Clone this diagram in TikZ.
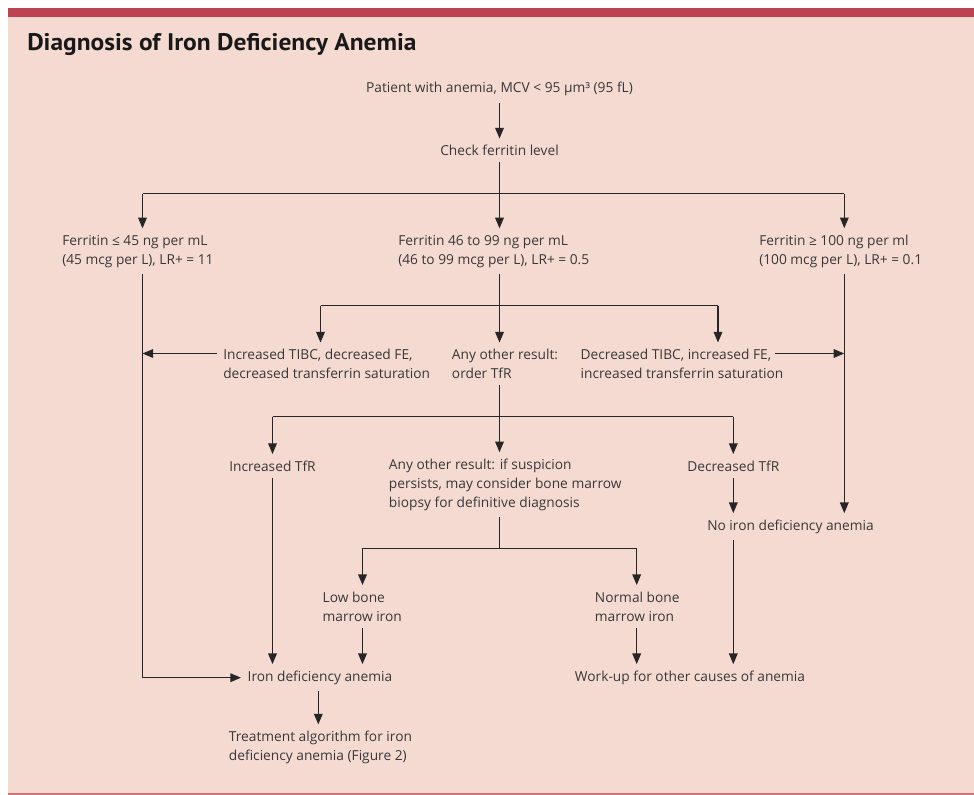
\documentclass[tikz,border=0pt]{standalone}
\usepackage{fontspec}
\setmainfont{Open Sans}
\newfontfamily\titlefont{PT Sans}[FakeStretch=1.06]
\usetikzlibrary{arrows.meta}
\definecolor{bgpink}{HTML}{F5DAD2}
\definecolor{barred}{HTML}{BE4350}
\definecolor{ink}{HTML}{262626}
\definecolor{txtc}{HTML}{383838}
\begin{document}
\begin{tikzpicture}[x=0.75pt,y=-0.75pt,
  txt/.style={font=\fontsize{10.3}{14.25}\selectfont, inner sep=0pt, outer sep=5pt, text=txtc, align=left},
  ln/.style={draw=ink, line width=0.95pt},
  arr/.style={ln, -{Triangle[length=8pt,width=6.5pt]}}]
\useasboundingbox (0,0) rectangle (974,795);
\fill[white] (0,0) rectangle (974,795);
\fill[bgpink] (8,17) rectangle (974,793);
\fill[barred] (8,8) rectangle (974,17.5);
\fill[barred!75] (8,793) rectangle (974,795);

\node[anchor=west, inner sep=0pt, text=black!90, font=\titlefont\bfseries\fontsize{18}{20}\selectfont] (title) at (27,45) {Diagnosis of Iron Deficiency Anemia};

% nodes
\node[txt] (pat) at (499.5,89.3) {Patient with anemia, MCV < 95 µm³ (95 fL)};
\node[txt] (chk) at (499.5,150.5) {Check ferritin level};
\node[txt, anchor=west] (ferL) at (55.6,251.2) {Ferritin ≤ 45 ng per mL\\(45 mcg per L), LR+ = 11};
\node[txt, anchor=west] (ferM) at (391.6,251.2) {Ferritin 46 to 99 ng per mL\\(46 to 99 mcg per L), LR+ = 0.5};
\node[txt, anchor=west] (ferR) at (752.6,251.2) {Ferritin ≥ 100 ng per ml\\(100 mcg per L), LR+ = 0.1};
\node[txt, anchor=west] (tibcI) at (216.6,364) {Increased TIBC, decreased FE,\\decreased transferrin saturation};
\node[txt, anchor=west] (other1) at (445.3,364) {Any other result:\\order TfR};
\node[txt, anchor=west] (tibcD) at (574,364) {Decreased TIBC, increased FE,\\increased transferrin saturation};
\node[txt] (tfrI) at (272.5,466) {Increased TfR};
\node[txt, anchor=west] (other2) at (382.3,484.8) {Any other result: if suspicion\\persists, may consider bone marrow\\biopsy for definitive diagnosis};
\node[txt] (tfrD) at (733.3,466) {Decreased TfR};
\node[txt, anchor=west] (noida) at (700.6,526.7) {No iron deficiency anemia};
\node[txt, anchor=west] (lowbm) at (316,606.5) {Low bone\\marrow iron};
\node[txt, anchor=west] (normbm) at (588.3,606.5) {Normal bone\\marrow iron};
\node[txt, anchor=west] (ida) at (241,677.7) {Iron deficiency anemia};
\node[txt, anchor=west] (wu) at (568.3,677.7) {Work-up for other causes of anemia};
\node[txt, anchor=west] (treat) at (222.3,747.5) {Treatment algorithm for iron\\deficiency anemia (Figure 2)};

% coordinates
\coordinate (b1) at (499.5,193.5);
\coordinate (cL) at (142.5,193.5);
\coordinate (cR) at (844.3,193.5);
\coordinate (aL) at (142.5,353.5);
\coordinate (aRs) at (775,353.5);
\coordinate (aR) at (844.3,353.5);
\coordinate (m2) at (499.5,305.7);
\coordinate (m2L) at (320.5,305.7);
\coordinate (m2R) at (718,305.7);
\coordinate (m3) at (499.5,416.7);
\coordinate (m3L) at (272.5,416.7);
\coordinate (m3R) at (733.3,416.7);
\coordinate (m4) at (499.5,548.3);
\coordinate (m4L) at (362.5,548.3);
\coordinate (m4R) at (636.7,548.3);
\coordinate (ct) at (318.3,700);

% connectors
\draw[arr] (pat.south) -- (chk.north);
\draw[ln] (chk.south) -- (b1);
\draw[ln] (cL) -- (cR);
\draw[arr] (cL) -- (cL |- ferL.north);
\draw[arr] (b1) -- (b1 |- ferM.north);
\draw[arr] (cR) -- (cR |- ferR.north);

\draw[arr] (cL |- ferL.south) -- (cL |- ida.west) -- (ida.west);
\draw[arr] (tibcI.west |- aL) -- (aL);
\draw[arr] (aRs) -- (aR);
\draw[arr] (cR |- ferR.south) -- (cR |- noida.north);

\draw[ln] (b1 |- ferM.south) -- (m2);
\draw[ln] (m2L) -- (m2R);
\draw[arr] (m2L) -- (m2L |- tibcI.north);
\draw[arr] (m2) -- (m2 |- other1.north);
\draw[arr] (m2R) -- (m2R |- tibcD.north);

\draw[ln] (m2 |- other1.south) -- (m3);
\draw[ln] (m3L) -- (m3R);
\draw[arr] (m3L) -- (m3L |- tfrI.north);
\draw[arr] (m3) -- (m3 |- other2.north);
\draw[arr] (m3R) -- (m3R |- tfrD.north);

\draw[arr] (tfrI.south) -- (tfrI.south |- ida.north);
\draw[arr] (tfrD.south) -- (tfrD.south |- noida.north);

\draw[ln] (m3 |- other2.south) -- (m4);
\draw[ln] (m4L) -- (m4R);
\draw[arr] (m4L) -- (m4L |- lowbm.north);
\draw[arr] (m4R) -- (m4R |- normbm.north);
\draw[arr] (m4L |- lowbm.south) -- (m4L |- ida.north);
\draw[arr] (m4R |- normbm.south) -- (m4R |- wu.north);
\draw[arr] (m3R |- noida.south) -- (m3R |- wu.north);
\draw[arr] (ct |- ida.south) -- (ct |- treat.north);
\end{tikzpicture}
\end{document}
